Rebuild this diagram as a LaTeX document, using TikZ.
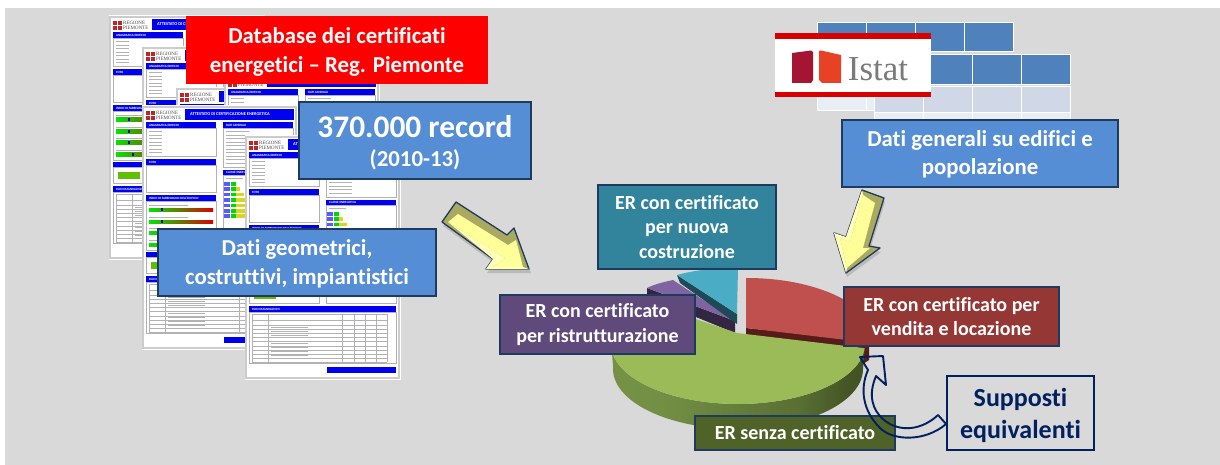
\documentclass[tikz,border=0pt]{standalone}
\usepackage{fontspec}
\setmainfont[Ligatures=NoCommon]{Carlito}
\newfontfamily\serifist{Liberation Serif}
\usetikzlibrary{calc}
\definecolor{bgg}{HTML}{D9D9D9}
\definecolor{edgeb}{HTML}{1F3A5F}
\definecolor{boxblue}{HTML}{558ED5}
\definecolor{barblue}{HTML}{0000F0}
\definecolor{navyb}{HTML}{002060}
\definecolor{yel}{HTML}{FFFF99}
\definecolor{yelpale}{HTML}{FFFFB8}
\definecolor{yeldark}{HTML}{A9A961}
\definecolor{tabh}{HTML}{4F81BD}
\definecolor{tabm}{HTML}{D0D8E8}
\definecolor{tabl}{HTML}{E9EDF4}
\definecolor{piegreen}{HTML}{9BBB59}
\definecolor{pieteal}{HTML}{4BACC6}
\definecolor{pietealdk}{HTML}{1D4A56}
\definecolor{piepurple}{HTML}{8064A2}
\definecolor{piepurpledk}{HTML}{322642}
\definecolor{piered}{HTML}{C0504D}
\definecolor{pieredk}{HTML}{551C1A}
\definecolor{gsa}{HTML}{7A9848}
\definecolor{gsb}{HTML}{738F44}
\definecolor{gsc}{HTML}{596F33}
\definecolor{gsd}{HTML}{445424}
\definecolor{gse}{HTML}{3B481F}
\pgfdeclarehorizontalshading{greenside}{100bp}{
  color(0bp)=(gsa);
  color(35bp)=(gsb);
  color(62bp)=(gsc);
  color(72bp)=(gsd);
  color(100bp)=(gse)}
\tikzset{
  x=1pt,y=-1pt,
  sheet/.style={fill=white,draw=black!20,line width=1.4pt},
  secbar/.style={fill=barblue,draw=none},
  secbox/.style={draw=black!30,line width=.6pt,fill=white},
  microline/.style={draw=black!30,line width=.6pt},
  bartext/.style={text=white,font=\fontsize{3.2}{3.6}\selectfont\bfseries,inner sep=0pt,anchor=west},
  logotext/.style={text=black!70,font=\fontsize{5}{5.2}\selectfont\serifist,inner sep=0pt,anchor=west,align=left},
  panel/.style={draw=edgeb,line width=1.3pt,fill=boxblue,text=white,align=center,inner sep=0pt,font=\fontsize{22.8}{28.5}\selectfont\bfseries},
  erbox/.style={draw=edgeb,line width=1.1pt,text=white,align=center,inner sep=0pt,font=\fontsize{20}{24.5}\selectfont\bfseries},
  bevelout/.style={draw=edgeb,line width=1.3pt,fill=yeldark,line join=round},
  bevelin/.style={fill=yel,draw=none},
  tabcell/.style={draw=white,line width=1pt},
  softshadow/.style={fill=black,opacity=.14},
}
\newcommand{\certsheet}[3]{%
\begin{scope}[shift={(#1,#2)}]
\fill[white] (-1.5,-1.5) rectangle (154.5,242.5);
\draw[sheet] (0,0) rectangle (153,241);
\foreach \a/\b in {3/4,8/4,3/9,8/9}{\fill[red!70!black!85] (\a,\b) rectangle +(4,3.8);}
\node[logotext] (#3logo) at (13,8.5) {REGIONE\\PIEMONTE};
\fill[secbar] (42,2) rectangle (151,13);
\node[bartext,font=\fontsize{4.4}{5}\selectfont\bfseries] (#3title) at (47,7.5) {ATTESTATO DI CERTIFICAZIONE ENERGETICA};
\draw[secbox] (3,21) rectangle (73,49);
\fill[secbar] (3,15.5) rectangle (73,21);
\node[bartext] (#3ana) at (6,18.3) {ANAGRAFICA EDIFICIO};
\foreach \r in {24.5,28,31.5,35,38.5,42,45.5}{\draw[microline] (6,\r) -- (19,\r);}
\draw[secbox] (3,58) rectangle (73,85);
\fill[secbar] (3,52) rectangle (73,58);
\node[bartext] (#3foto) at (6,55) {FOTO};
\draw[secbox] (3,94) rectangle (73,143);
\fill[secbar] (3,88) rectangle (73,94);
\node[bartext] (#3ind) at (6,91) {INDICI DI FABBISOGNO DELL'EDIFICIO};
\foreach \r/\m in {101/18,113/18,124/18,136/22}{
  \draw[microline] (6,\r-3) -- (45,\r-3);
  \shade[left color=green!90!black,middle color=yellow!70!green!85!black,right color=red!85!black] (6,\r) rectangle +(64,3.4);
  \fill[blue!80!black] (\m,\r) rectangle +(2,3.4);
}
\draw[secbox] (3,150) rectangle (73,166);
\fill[secbar] (3,145) rectangle (73,150);
\fill[green!50!yellow!75!black] (8,155) rectangle (30,162);
\draw[secbox] (3,175) rectangle (150,226);
\fill[secbar] (3,169) rectangle (150,175);
\node[bartext] (#3rac) at (6,172) {RACCOMANDAZIONI};
\foreach \r in {177,183,188,192,196,200,204,209,213,217,221,225}{\draw[draw=black!30,line width=.4pt] (6,\r) -- (141,\r);}
\foreach \c in {6,22,96,108,119,130,141}{\draw[draw=black!30,line width=.4pt] (\c,177) -- (\c,225);}
\foreach \r in {190,194,198,206,210,214,218}{\draw[microline,line width=.3pt] (25,\r) -- (62,\r);}
\fill[secbar] (81,230) rectangle (150,236);
\draw[secbox] (80,21) rectangle (150,60);
\fill[secbar] (80,15.5) rectangle (150,21);
\node[bartext] (#3dat) at (83,18.3) {DATI GENERALI};
\foreach \r in {24.5,28,31.5,35,38.5,42,45.5,49,52.5,56}{\draw[microline] (83,\r) -- (106,\r);}
\draw[secbox] (80,68) rectangle (150,166);
\fill[secbar] (80,63) rectangle (150,68);
\node[bartext] (#3cla) at (83,65.5) {CLASSE ENERGETICA};
\draw[microline] (83,71.5) -- (100,71.5);
\foreach \r/\g/\y in {75/5/0,80.4/5/4,85.8/5/8,91.2/5/12,96.6/5/12,102/5/12,107.4/5/12}{
  \fill[blue!65!white] (81,\r) rectangle +(6,3.6);
  \fill[green!85!black] (88,\r) rectangle +(\g,3.6);
  \fill[yellow!85!black] (88+\g,\r) rectangle +(\y,3.6);
}
\end{scope}}
\begin{document}
\begin{tikzpicture}
\useasboundingbox (0,0) rectangle (1220,465);
\fill[white] (0,0) rectangle (1220,465);
\fill[bgg] (5,8) rectangle (1220,465);
% certificate sheets
\certsheet{110}{17}{sa}
\certsheet{143}{48}{sb}
\certsheet{177}{89}{sc}
\certsheet{225}{74}{sd}
\certsheet{143}{107}{se}
\certsheet{246}{137}{sf}
% pie: purple sector
\fill[piepurpledk] (735,321) -- (735,333) -- (647,297) -- (647,288) -- cycle;
\fill[piepurple] (647,288) .. controls (655,284) and (664,282) .. (673,280) -- (735,321) -- cycle;
% teal sector
\fill[pietealdk] (677,275) -- (737,314) -- (737,324) -- (680,283) -- cycle;
\fill[pieteal] (677,275) .. controls (695,270) and (715,268) .. (738,268) -- (737,314) -- cycle;
% red sector
\fill[pieredk] (746,328) -- (746,335) -- (860,348) -- (860,366) -- (869,360) -- (869,341) -- cycle;
\fill[piered] (746,328) -- (746,278)
  -- plot[domain=90:-4,samples=40] ({747+127*cos(\x)},{339-61*sin(\x)}) -- cycle;
% green sector side and top
\shade[shading=greenside]
  plot[domain=178:356,samples=60] ({738+127*cos(\x)},{344-60*sin(\x)})
  -- plot[domain=356:178,samples=60] ({738+125*cos(\x)},{369-60*sin(\x)}) -- cycle;
\fill[piegreen] (737,333) -- plot[domain=136:356,samples=80] ({738+127*cos(\x)},{344-60*sin(\x)}) -- cycle;
% ISTAT tables
\foreach \i in {0,1,2,3}{
  \fill[tabh,tabcell] (817+49*\i,23) rectangle +(49,29);
}
\foreach \i in {0,1}{
  \fill[tabl,tabcell] (817+49*\i,88) rectangle +(49,23);
}
\foreach \i in {0,1,2,3}{
  \fill[tabh,tabcell] (874+49*\i,55) rectangle +(49,30);
  \fill[tabm,tabcell] (874+49*\i,87) rectangle +(49,26);
  \fill[tabl,tabcell] (874+49*\i,113) rectangle +(49,10);
}
\fill[white] (775,33) rectangle (931,97);
\fill[red!85!black] (775,33) rectangle (931,39.5);
\fill[red!85!black] (775,92) rectangle (931,97);
\fill[color={rgb,255:red,163;green,21;blue,50}] (792,53) -- (811,50.5) -- (813,52) -- (813,80) -- (811,83) -- (792,83) -- cycle;
\fill[color={rgb,255:red,232;green,66;blue,36}] (819,51) -- (821,50.5) -- (841,55) -- (841,83) -- (822,83) -- (819,80) -- cycle;
\node[text=black!52,font=\fontsize{35}{35}\selectfont\serifist,inner sep=0pt] (istat) at (878,69) {Istat};
% panels
\node[fill=red,text=white,align=center,inner sep=0pt,minimum width=302pt,minimum height=68pt,font=\fontsize{22.8}{28.5}\selectfont\bfseries] (db) at (337,50) {\rule{0pt}{20pt}Database dei certificati\\energetici – Reg. Piemonte};
\node[panel,minimum width=232pt,minimum height=77pt] (rec) at (415,140.5) {\rule{0pt}{26pt}{\fontsize{31.4}{36}\selectfont 370.000 record}\\{\fontsize{22.8}{28}\selectfont (2010-13)}};
\node[panel,minimum width=278pt,minimum height=67pt] (geo) at (297,262.5) {\rule{0pt}{19pt}Dati geometrici,\\costruttivi, impiantistici};
\node[panel,minimum width=276pt,minimum height=67pt] (gen) at (980,153.5) {\rule{0pt}{18pt}Dati generali su edifici e\\popolazione};
% yellow arrows
\fill[softshadow] (443,226) -- (457,206) -- (508,239) -- (515,232) -- (531,273) -- (487,273) -- (494,263) -- cycle;
\draw[bevelout] (442,222) -- (456,202) -- (507,235) -- (514,228) -- (529,269) -- (486,269) -- (493,259) -- cycle;
\fill[yelpale] (448,222) -- (493,259) -- (486,269) -- (529,269) -- (523,267) -- (493,267) -- (505,258) -- cycle;
\fill[bevelin] (458,214) -- (508,245) -- (516,240) -- (523,267) -- (493,267) -- (505,258) -- (448,222) -- cycle;
\fill[softshadow] (863,194) -- (885,202) -- (870,250) -- (881,252) -- (847,277) -- (835,237) -- (847,241) -- cycle;
\draw[bevelout] (862,190) -- (884,198) -- (869,246) -- (880,248) -- (846,273) -- (834,233) -- (846,237) -- cycle;
\fill[yelpale] (862,190) -- (846,237) -- (834,233) -- (846,273) -- (847,268) -- (840,238) -- (850,242) -- (863,195) -- cycle;
\fill[bevelin] (863,195) -- (875,203) -- (863,248) -- (870,248) -- (847,268) -- (840,238) -- (850,242) -- cycle;
% ER boxes
\node[erbox,fill={rgb,255:red,49;green,132;blue,155},minimum width=178pt,minimum height=84pt] (nuova) at (687,227) {ER con certificato\\per nuova\\costruzione};
\node[erbox,fill={rgb,255:red,96;green,74;blue,123},minimum width=195pt,minimum height=59pt] (rist) at (597.5,324.5) {ER con certificato\\per ristrutturazione};
\node[erbox,fill={rgb,255:red,149;green,55;blue,53},minimum width=215pt,minimum height=59pt] (vend) at (951.5,316.5) {ER con certificato per\\vendita e locazione};
\node[erbox,fill={rgb,255:red,79;green,98;blue,40},minimum width=200pt,minimum height=34pt] (senza) at (795,433) {ER senza certificato};
\node[draw=navyb,line width=1.8pt,text=navyb,align=center,inner sep=0pt,minimum width=147pt,minimum height=74pt,font=\fontsize{26}{32}\selectfont\bfseries] (sup) at (1020.5,413) {\rule{0pt}{24pt}Supposti\\equivalenti};
% curved arrow from the Supposti box to the pie
\coordinate (tip) at (860,357);
\draw[draw=navyb,line width=1.9pt,line join=round] (sup.west |- 0,424) .. controls (925,442) and (893,441) .. (880,428)
  .. controls (862,410) and (860,388) .. (868,370) -- (tip) -- (883,356) -- (886,385) -- (876,376)
  .. controls (868,395) and (872,410) .. (884,420) .. controls (900,433) and (922,430) .. (938,415) -- cycle;
\end{tikzpicture}
\end{document}
